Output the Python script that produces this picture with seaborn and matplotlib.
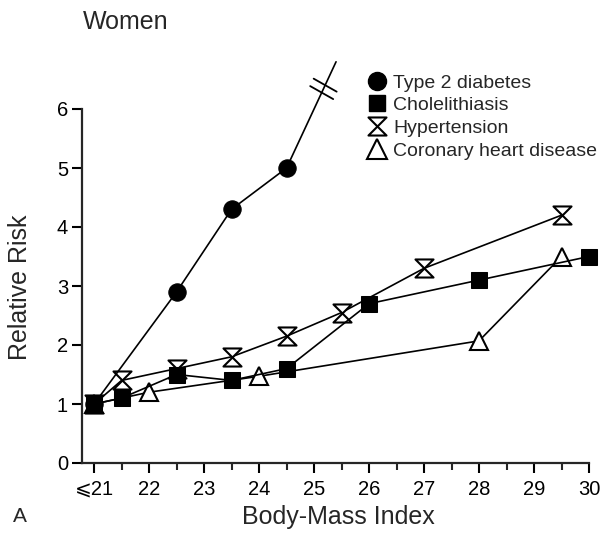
import numpy as np
import pandas as pd
import seaborn as sns
import matplotlib
matplotlib.use("Agg")
import matplotlib.pyplot as plt
from matplotlib.path import Path
from matplotlib.lines import Line2D

# ---- data ----
diab_x = [21, 22.5, 23.5, 24.5]
diab_y = [1.0, 2.9, 4.3, 5.0]
diab_ext = (25.4, 6.8)          # line continues off-scale (broken)

chol_x = [21, 21.5, 22.5, 23.5, 24.5, 26, 28, 30]
chol_y = [1.0, 1.1, 1.5, 1.4, 1.6, 2.7, 3.1, 3.5]

hyp_x = [21, 21.5, 22.5, 23.5, 24.5, 25.5, 27, 29.5]
hyp_y = [1.0, 1.4, 1.6, 1.8, 2.15, 2.55, 3.3, 4.2]

chd_x = [21, 22, 24, 28, 29.5]
chd_y = [1.0, 1.2, 1.47, 2.07, 3.5]

labels = ["Type 2 diabetes", "Cholelithiasis", "Hypertension", "Coronary heart disease"]
xticks = list(range(21, 31))
xticklabels = ["\u2a7d21"] + [str(v) for v in range(22, 31)]
yticks = list(range(0, 7))

# ---- style ----
sns.set_style("ticks")
plt.rcParams["font.family"] = ["Liberation Sans", "DejaVu Sans"]

hourglass = Path([(-1, 1), (1, 1), (-1, -1), (1, -1), (-1, 1)],
                 [Path.MOVETO, Path.LINETO, Path.LINETO, Path.LINETO, Path.CLOSEPOLY])

fig = plt.figure(figsize=(6.02, 5.35), dpi=100)
ax = fig.add_axes([82 / 602, (535 - 463) / 535, (589 - 82) / 602, (463 - 109) / 535])
ax.set_xlim(20.78, 30)
ax.set_ylim(0, 6)

lw = 1.2
mew = 1.5

# CHD
sns.lineplot(x=chd_x, y=chd_y, ax=ax, color="black", lw=lw, marker="^",
             markersize=13, markerfacecolor="white", markeredgecolor="black",
             markeredgewidth=mew, clip_on=False, zorder=3)
# Hypertension
sns.lineplot(x=hyp_x, y=hyp_y, ax=ax, color="black", lw=lw, marker=hourglass,
             markersize=13, markerfacecolor="white", markeredgecolor="black",
             markeredgewidth=mew, clip_on=False, zorder=4)
# Cholelithiasis
sns.lineplot(x=chol_x, y=chol_y, ax=ax, color="black", lw=lw, marker="s",
             markersize=12, markerfacecolor="black", markeredgecolor="black",
             clip_on=False, zorder=5)
# Diabetes line (with off-scale extension) + markers
dx_line = diab_x + [diab_ext[0]]
dy_line = diab_y + [diab_ext[1]]
sns.lineplot(x=dx_line, y=dy_line, ax=ax, color="black", lw=lw, marker="o",
             markersize=12.5, markerfacecolor="black", markeredgecolor="black",
             markevery=list(range(len(diab_x))), clip_on=False, zorder=6)

# break marks on the off-scale diabetes segment
trans = ax.transData
p0 = trans.transform((diab_x[-1], diab_y[-1]))
p1 = trans.transform(diab_ext)
for t in (0.71, 0.78):
    c = p0 + t * (p1 - p0)
    a = c + np.array([-11.5, 6.5])
    b = c + np.array([11.5, -6.5])
    da, db = trans.inverted().transform([a, b])
    ax.plot([da[0], db[0]], [da[1], db[1]], color="black", lw=1.3, clip_on=False, zorder=7)

# axes styling
for s in ["top", "right"]:
    ax.spines[s].set_visible(False)
for s in ["left", "bottom"]:
    ax.spines[s].set_linewidth(1.6)
ax.set_xticks(xticks)
ax.set_xticklabels(xticklabels)
ax.set_xticks(np.arange(21.5, 30, 1.0), minor=True)
ax.set_yticks(yticks)
ax.tick_params(axis="both", which="major", direction="out", length=7, width=1.5,
               labelsize=14.5, colors="black", pad=3)
ax.tick_params(axis="x", which="major", pad=5)
ax.tick_params(axis="x", which="minor", direction="out", length=5, width=1.5)
ax.set_xlabel("")
ax.set_ylabel("")

# legend (markers only)
handles = [
    Line2D([], [], ls="none", marker="o", markersize=13, markerfacecolor="black", markeredgecolor="black"),
    Line2D([], [], ls="none", marker="s", markersize=12, markerfacecolor="black", markeredgecolor="black"),
    Line2D([], [], ls="none", marker=hourglass, markersize=13, markerfacecolor="white",
           markeredgecolor="black", markeredgewidth=mew),
    Line2D([], [], ls="none", marker="^", markersize=14, markerfacecolor="white",
           markeredgecolor="black", markeredgewidth=mew),
]
leg = fig.legend(handles, labels, loc="upper left", bbox_to_anchor=(368 / 602, 1 - 74 / 535),
                 frameon=False, fontsize=14, handlelength=0.9, handletextpad=0.4,
                 labelspacing=0.26, borderaxespad=0, borderpad=0)

# texts
fig.text(83 / 602, 1 - 22 / 535, "Women", fontsize=18, ha="left", va="center")
fig.text(20 / 602, 1 - 287 / 535, "Relative Risk", fontsize=18, rotation=90,
         ha="center", va="center")
fig.text(338 / 602, 1 - 517 / 535, "Body-Mass Index", fontsize=18, ha="center", va="center")
fig.text(20 / 602, 1 - 517 / 535, "A", fontsize=15, ha="center", va="center")

fig.savefig("out.png", dpi=100)
